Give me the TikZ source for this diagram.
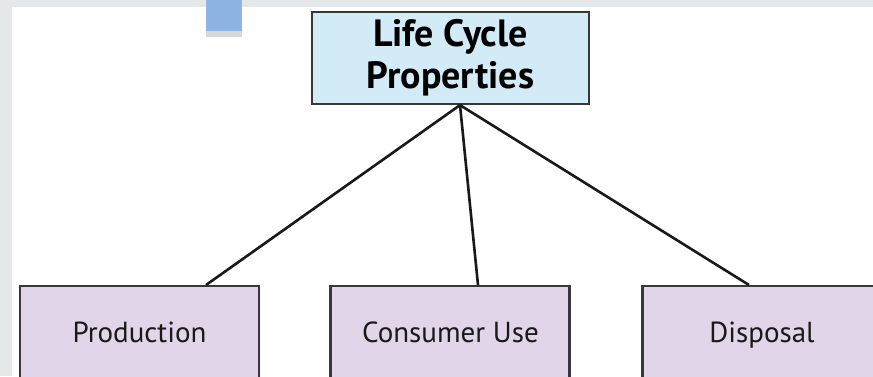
\documentclass[tikz,border=0pt]{standalone}
\usepackage{fontspec}
\setmainfont{PT Sans}
\usetikzlibrary{calc}
\definecolor{bggray}{HTML}{E5E8E8}
\definecolor{topfill}{HTML}{D3EBF7}
\definecolor{lowfill}{HTML}{E1D5E9}
\definecolor{edge}{HTML}{383838}
\definecolor{tabblue}{HTML}{8EB4E3}
\definecolor{tabshade}{HTML}{D8D8D8}
\tikzset{
  topbox/.style={draw=edge, line width=2.2pt, fill=topfill, rectangle, inner sep=0pt,
    minimum width=277pt, minimum height=92pt, align=center,
    font=\fontsize{38}{42}\selectfont\bfseries, text=black},
  lowbox/.style={draw=edge, line width=2.2pt, fill=lowfill, rectangle, inner sep=0pt,
    minimum width=239pt, minimum height=140pt, anchor=north},
  lowtext/.style={font=\fontsize{29}{34}\selectfont, text=black!90, anchor=base, inner sep=0pt},
  link/.style={draw=black!90, line width=2.6pt}
}
\begin{document}
\begin{tikzpicture}[x=1pt,y=-1pt]
\useasboundingbox (0,0) rectangle (873,376);
\fill[bggray] (0,0) rectangle (873,376);
\fill[white] (12,7) rectangle (880,380);
\fill[tabblue] (206,0) rectangle (242,31);
\fill[tabshade] (206,31) rectangle (242,37);
\node[topbox] (top) at (450.5,58) {Life Cycle\\Properties};
\node[lowbox] (prod) at (139.5,285) {};
\node[lowbox] (cons) at (450,285) {};
\node[lowbox] (disp) at (762,285) {};
\node[lowtext] (prodt) at (139.5,342) {Production};
\node[lowtext] (const) at (450.5,342) {Consumer Use};
\node[lowtext] (dispt) at (762,342) {Disposal};
\coordinate (hub) at ($(top.south)+(9.5,0)$);
\draw[link] (hub) -- ($(prod.north)+(66.5,0)$);
\draw[link] (hub) -- ($(cons.north)+(28,0)$);
\draw[link] (hub) -- ($(disp.north)+(-13,0)$);
\end{tikzpicture}
\end{document}
